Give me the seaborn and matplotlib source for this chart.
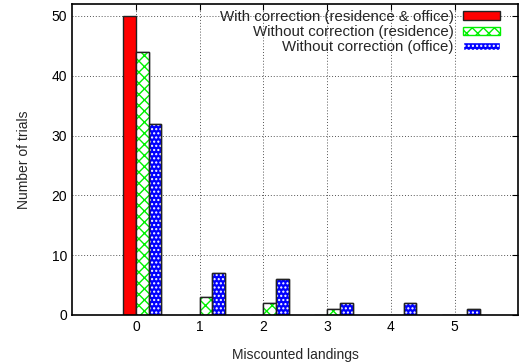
import pandas as pd
import matplotlib
matplotlib.use('Agg')
import matplotlib.pyplot as plt
import seaborn as sns
from matplotlib.patches import Patch

# data
landings = [0, 1, 2, 3, 4, 5]
with_corr = [50, 0, 0, 0, 0, 0]
without_res = [44, 3, 2, 1, 0, 0]
without_office = [32, 7, 6, 2, 2, 1]
series_names = ['With correction (residence & office)',
                'Without correction (residence)',
                'Without correction (office)']

df = pd.DataFrame({
    'landings': landings * 3,
    'trials': with_corr + without_res + without_office,
    'series': [s for s in series_names for _ in landings],
})

sns.set_style('white')
plt.rcParams['font.family'] = ['Liberation Sans', 'DejaVu Sans']
plt.rcParams['hatch.linewidth'] = 1.0

fig = plt.figure(figsize=(5.19, 3.62), dpi=100)
ax = fig.add_axes([0.139, 0.130, 0.860, 0.859])

palette = ['#ff0000', '#ffffff', '#0000ff']
sns.barplot(data=df, x='landings', y='trials', hue='series', hue_order=series_names,
            palette=palette, width=0.6, dodge=True, saturation=1, ax=ax,
            edgecolor='#222222', linewidth=1.0, legend=False)

# gnuplot-like fill patterns and offsets
hatches = {1: ('xxx', '#00f000', '#ffffff'), 2: ('....', '#ffffff', '#0000ff')}
bar_groups = list(ax.containers)[:3]
for i, cont in enumerate(bar_groups):
    for p in cont:
        p.set_x(p.get_x() + 0.1)
        if i in hatches and p.get_height() > 0:
            h, hc, fc = hatches[i]
            x, w, ht = p.get_x(), p.get_width(), p.get_height()
            ax.bar(x + w / 2, ht, width=w, color=fc, edgecolor=hc, hatch=h,
                   linewidth=0, zorder=p.get_zorder() + 0.1)
            ax.bar(x + w / 2, ht, width=w, fill=False, edgecolor='#222222',
                   linewidth=1.0, zorder=p.get_zorder() + 0.2)

ax.set_xlim(-1, 6)
ax.set_ylim(0, 52)
ax.set_yticks([0, 10, 20, 30, 40, 50])
ax.set_xticks(landings)
ax.set_xticklabels([str(v) for v in landings])
ax.set_xlabel('Miscounted landings', fontsize=10, labelpad=10)
ax.set_ylabel('Number of trials', fontsize=10, labelpad=15)
ax.grid(True, linestyle=(0, (1, 2)), color='#555555', linewidth=0.7)
ax.set_axisbelow(True)
for s in ax.spines.values():
    s.set_color('black')
    s.set_linewidth(1.2)
ax.tick_params(direction='in', top=True, right=True, length=4, labelsize=10,
               colors='black', width=0.8)

# legend with hatched handles
handles = [Patch(facecolor='#ff0000', edgecolor='#222222'),
           Patch(facecolor='#ffffff', edgecolor='#00f000', hatch='xxx'),
           Patch(facecolor='#0000ff', edgecolor='#ffffff', hatch='....')]
leg = ax.legend(handles, series_names, loc='upper right', bbox_to_anchor=(0.973, 1.0),
                frameon=False, markerfirst=False, fontsize=10.8, handlelength=2.5,
                handleheight=0.5, labelspacing=0.08, borderaxespad=0.0,
                handletextpad=0.6)

fig.savefig('out.png', dpi=100)
